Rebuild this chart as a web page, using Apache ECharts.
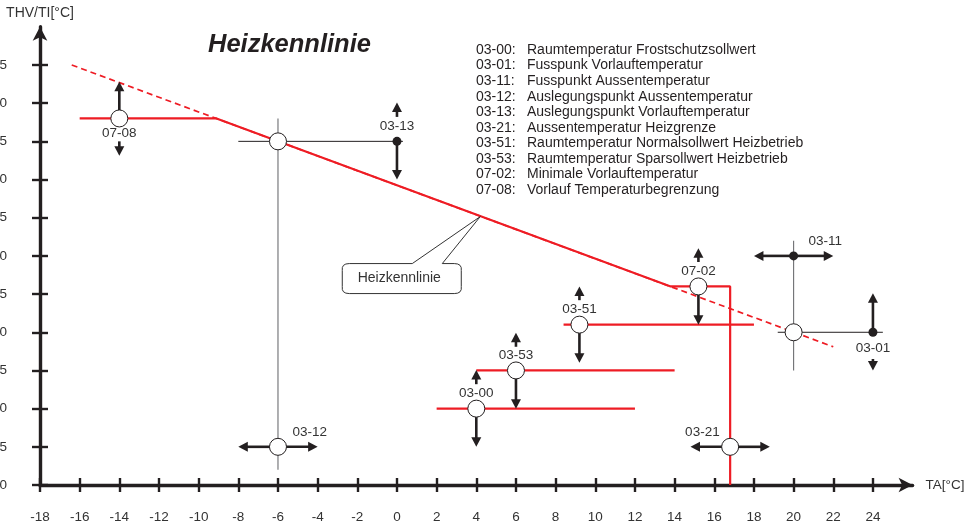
<!DOCTYPE html>
<html>
<head>
<meta charset="utf-8">
<script src="https://cdn.jsdelivr.net/npm/echarts@6/dist/echarts.min.js"></script>
<style>
html,body{margin:0;padding:0;background:#fff}
#chart{width:976px;height:526px}
</style>
</head>
<body>
<div id="chart"></div>
<script>
const FONT = '"Liberation Sans", Arial, sans-serif';
const INK = '#231f20';
const RED = '#ee1c24';
const LABEL_SIZE = 13.5;

// Axis ranges and tick labels
const xRange = [-18, 26];
const yRange = [0, 60];
const xTicks = [-18, -16, -14, -12, -10, -8, -6, -4, -2, 0, 2, 4, 6, 8, 10, 12, 14, 16, 18, 20, 22, 24];
const yTicks = [0, 5, 10, 15, 20, 25, 30, 35, 40, 45, 50, 55];

// Heating curve: dashed full extension and the active (limited) course
const curveExtension = [[-16.4, 55.0], [22.0, 18.1]];
const curveActive = [[-16, 48], [-9.1, 48], [13.8, 26], [16.8, 26], [16.8, 0]];

// Room setpoint lines 03-51, 03-53, 03-00
const roomSetpoints = [
  [[8.4, 21], [18, 21]],
  [[4, 15], [14, 15]],
  [[2, 10], [12, 10]]
];

// Thin reference lines
const refLinesDark = [
  [[-8, 45], [0.3, 45]],
  [[19.2, 20], [24.5, 20]]
];
const refLinesGrey = [
  [[-6, 48], [-6, 2]],
  [[20, 32], [20, 15]]
];

// Parameter points
const openPoints = [[-14, 48], [-6, 45], [-6, 5], [4, 10], [6, 15], [9.2, 21], [15.2, 26], [16.8, 5], [20, 20]];
const filledPoints = [[0, 45], [20, 30], [24, 20]];

// Adjustment arrows: [x from, y from, x to, y to]
const arrows = [
  [-14, 48, -14, 52.8], [-14, 45, -14, 43.1],
  [0, 48.2, 0, 50.1], [0, 45, 0, 40],
  [15.2, 29.2, 15.2, 31.0], [15.2, 26, 15.2, 21],
  [24, 20, 24, 25.1], [24, 16.5, 24, 15.0],
  [9.2, 24.2, 9.2, 26.0], [9.2, 21, 9.2, 16],
  [6, 18.1, 6, 19.95], [6, 15, 6, 10],
  [4, 13.2, 4, 15.05], [4, 10, 4, 5],
  [-6, 5, -8, 5], [-6, 5, -4, 5],
  [16.8, 5, 14.8, 5], [16.8, 5, 18.8, 5],
  [20, 30, 18, 30], [20, 30, 22, 30]
];

// Parameter code labels: [text, x, y]
const paramLabels = [
  ['07-08', -14, 46.0],
  ['03-13', 0, 47.0],
  ['07-02', 15.2, 28.0],
  ['03-01', 24, 17.9],
  ['03-51', 9.2, 23.0],
  ['03-53', 6.0, 17.0],
  ['03-00', 4.0, 12.0],
  ['03-12', -4.4, 6.9],
  ['03-21', 15.4, 6.9],
  ['03-11', 21.6, 31.9]
];

// Callout anchor on the curve
const calloutPoint = [[4.2, 35.15]];
const calloutText = 'Heizkennlinie';

// Parameter legend
const legendCodes = ['03-00:', '03-01:', '03-11:', '03-12:', '03-13:', '03-21:', '03-51:', '03-53:', '07-02:', '07-08:'];
const legendTexts = [
  'Raumtemperatur Frostschutzsollwert',
  'Fusspunk Vorlauftemperatur',
  'Fusspunkt Aussentemperatur',
  'Auslegungspunkt Aussentemperatur',
  'Auslegungspunkt Vorlauftemperatur',
  'Aussentemperatur Heizgrenze',
  'Raumtemperatur Normalsollwert Heizbetrieb',
  'Raumtemperatur Sparsollwert Heizbetrieb',
  'Minimale Vorlauftemperatur',
  'Vorlauf Temperaturbegrenzung'
];

const chart = echarts.init(document.getElementById('chart'), null, { renderer: 'canvas' });

function segmentSeries(segments, color, width, z) {
  return segments.map(seg => ({
    type: 'line',
    data: seg,
    symbol: 'none',
    silent: true,
    z: z,
    lineStyle: { color: color, width: width },
    clip: false
  }));
}

function renderArrow(params, api) {
  const a = api.coord([api.value(0), api.value(1)]);
  const b = api.coord([api.value(2), api.value(3)]);
  const dx = b[0] - a[0], dy = b[1] - a[1];
  const len = Math.hypot(dx, dy) || 1;
  const ux = dx / len, uy = dy / len;
  const hl = 9.5, hw = 5;
  const base = [b[0] - ux * hl, b[1] - uy * hl];
  return {
    type: 'group',
    children: [
      { type: 'line', shape: { x1: a[0], y1: a[1], x2: base[0] + ux, y2: base[1] + uy },
        style: { stroke: INK, lineWidth: 2.6 } },
      { type: 'polygon', shape: { points: [b, [base[0] - uy * hw, base[1] + ux * hw], [base[0] + uy * hw, base[1] - ux * hw]] },
        style: { fill: INK } }
    ]
  };
}

function renderLabel(params, api) {
  const p = api.coord([api.value(1), api.value(2)]);
  return {
    type: 'text', x: p[0], y: p[1],
    style: { text: paramLabels[params.dataIndex][0], fill: '#333', fontSize: LABEL_SIZE, fontFamily: FONT,
             align: 'center', verticalAlign: 'middle' }
  };
}

function renderCallout(params, api) {
  const p = api.coord([api.value(0), api.value(1)]);
  const x0 = p[0], y0 = p[1];
  const L = x0 - 138, R = x0 - 19, T = y0 + 47, B = y0 + 77, r = 7;
  const gl = x0 - 68, gr = x0 - 38;
  const d = [
    'M', gl, T, 'L', x0, y0, 'L', gr, T,
    'L', R - r, T, 'Q', R + 1, T, R, T + r,
    'L', R, B - r, 'Q', R + 1, B, R - r, B,
    'L', L + r, B, 'Q', L - 1, B, L, B - r,
    'L', L, T + r, 'Q', L - 1, T, L + r, T, 'Z'
  ].join(' ');
  return {
    type: 'group',
    children: [
      { type: 'path', shape: { pathData: d }, style: { fill: '#fff', stroke: '#333', lineWidth: 1 } },
      { type: 'text', x: x0 - 81, y: y0 + 62,
        style: { text: calloutText, fill: '#333', fontSize: 14, fontFamily: FONT, align: 'center', verticalAlign: 'middle' } }
    ]
  };
}

const legendGraphics = [];
legendCodes.forEach((code, i) => {
  const y = 50 + i * 15.56;
  legendGraphics.push({ type: 'text', x: 476, y: y, silent: true,
    style: { text: code, fill: INK, fontSize: 14, fontFamily: FONT, verticalAlign: 'middle' } });
  legendGraphics.push({ type: 'text', x: 527, y: y, silent: true,
    style: { text: legendTexts[i], fill: INK, fontSize: 14, fontFamily: FONT, verticalAlign: 'middle' } });
});

const axisCommonX = {
  type: 'value', min: xRange[0], max: xRange[1], interval: 2, position: 'bottom', splitLine: { show: false }
};
const axisCommonY = {
  type: 'value', min: yRange[0], max: yRange[1], interval: 5, position: 'left', splitLine: { show: false }
};

chart.setOption({
  animation: false,
  backgroundColor: '#fff',
  textStyle: { fontFamily: FONT },
  title: {
    text: 'Heizkennlinie', left: 208, top: 32, padding: 0,
    textStyle: { fontSize: 25.5, fontStyle: 'italic', fontWeight: 'bold', color: INK, fontFamily: FONT }
  },
  grid: { left: 40, right: 63.4, top: 26.8, bottom: 41, containLabel: false, outerBoundsMode: 'none' },
  xAxis: [
    Object.assign({}, axisCommonX, {
      name: 'TA[°C]', nameLocation: 'end', nameGap: 13,
      nameTextStyle: { color: '#333', fontSize: 13.5, fontFamily: FONT, verticalAlign: 'middle' },
      axisLine: { show: true, onZero: false, lineStyle: { color: INK, width: 3.4 }, symbol: ['none', 'arrow'], symbolSize: [11, 14] },
      axisTick: { show: true, inside: false, length: 7, lineStyle: { color: INK, width: 2.4 }, customValues: xTicks },
      axisLabel: { show: true, margin: 25, color: '#333', fontSize: LABEL_SIZE, fontFamily: FONT, customValues: xTicks }
    }),
    Object.assign({}, axisCommonX, {
      axisLine: { show: false, onZero: false },
      axisTick: { show: true, inside: true, length: 7, lineStyle: { color: INK, width: 2.4 }, customValues: xTicks },
      axisLabel: { show: false }
    })
  ],
  yAxis: [
    Object.assign({}, axisCommonY, {
      name: 'THV/TI[°C]', nameLocation: 'end', nameGap: 7,
      nameTextStyle: { color: '#333', fontSize: 14, fontFamily: FONT },
      axisLine: { show: true, onZero: false, lineStyle: { color: INK, width: 3.4 }, symbol: ['none', 'arrow'], symbolSize: [11, 14] },
      axisTick: { show: true, inside: false, length: 8, lineStyle: { color: INK, width: 2.4 }, customValues: yTicks },
      axisLabel: { show: true, margin: 33, color: '#333', fontSize: LABEL_SIZE, fontFamily: FONT, customValues: yTicks }
    }),
    Object.assign({}, axisCommonY, {
      axisLine: { show: false, onZero: false },
      axisTick: { show: true, inside: true, length: 8, lineStyle: { color: INK, width: 2.4 }, customValues: yTicks },
      axisLabel: { show: false }
    })
  ],
  graphic: legendGraphics,
  series: [
    {
      type: 'line', data: curveExtension, symbol: 'none', silent: true, z: 2,
      lineStyle: { color: RED, width: 1.7, type: [6, 4] }
    },
    {
      type: 'line', data: curveActive, symbol: 'none', silent: true, z: 3,
      lineStyle: { color: RED, width: 2.2 }
    }
  ]
  .concat(segmentSeries(roomSetpoints, RED, 2.2, 3))
  .concat(segmentSeries(refLinesDark, INK, 1, 2))
  .concat(segmentSeries(refLinesGrey, '#6d6e71', 1.1, 2))
  .concat([
    {
      type: 'custom', data: calloutPoint, renderItem: renderCallout, silent: true, z: 4,
      encode: { x: 0, y: 1 }
    },
    {
      type: 'custom', data: arrows, renderItem: renderArrow, silent: true, z: 5,
      encode: { x: [0, 2], y: [1, 3] }
    },
    {
      type: 'scatter', data: openPoints, symbol: 'circle', symbolSize: 17, silent: true, z: 6,
      itemStyle: { color: '#fff', borderColor: INK, borderWidth: 1, opacity: 1 }
    },
    {
      type: 'scatter', data: filledPoints, symbol: 'circle', symbolSize: 9, silent: true, z: 6,
      itemStyle: { color: INK, opacity: 1 }
    },
    {
      type: 'custom', data: paramLabels.map(l => [l[0], l[1], l[2]]), renderItem: renderLabel, silent: true, z: 7,
      encode: { x: 1, y: 2 }
    }
  ])
});
</script>
</body>
</html>
